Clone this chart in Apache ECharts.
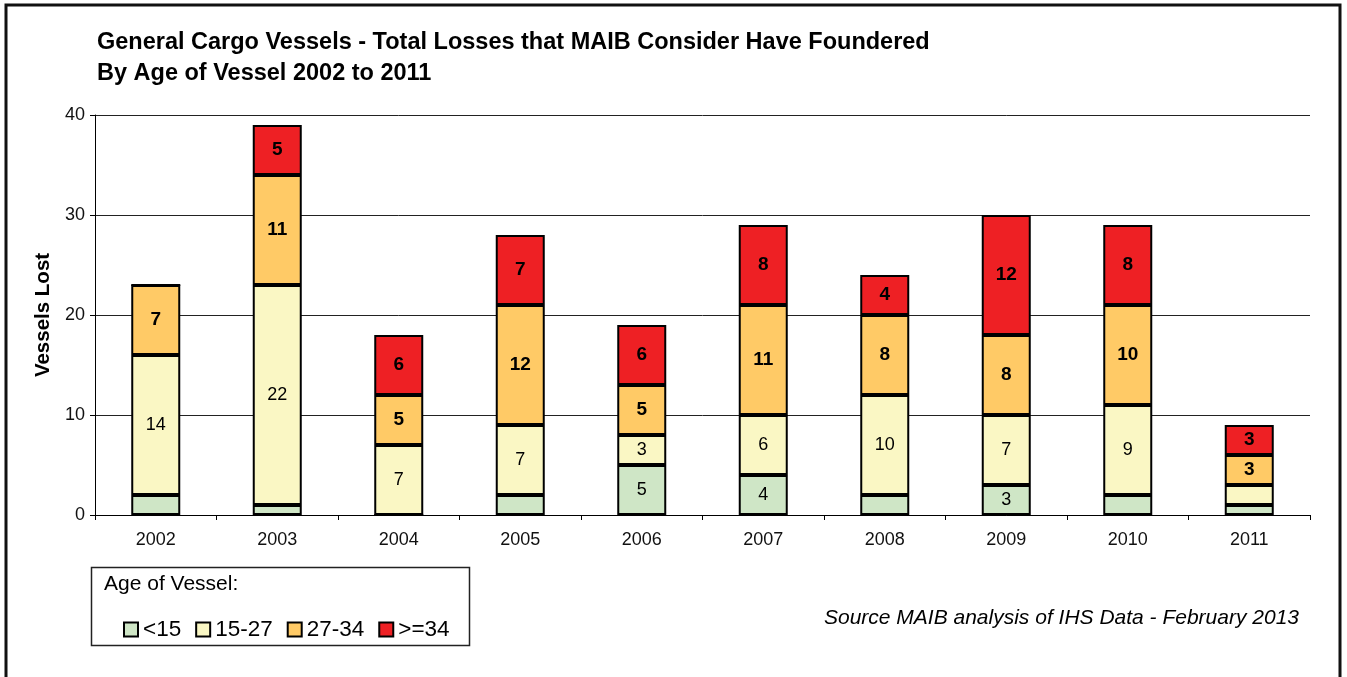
<!DOCTYPE html>
<html>
<head>
<meta charset="utf-8">
<title>General Cargo Vessels - Total Losses by Age</title>
<script src="https://cdn.jsdelivr.net/npm/echarts@6/dist/echarts.min.js"></script>
<style>
  html, body { margin: 0; padding: 0; background: #ffffff; }
  #chart { width: 1347px; height: 677px; }
</style>
</head>
<body>
<div id="chart"></div>
<script>
// Years on the category axis
const years = ['2002', '2003', '2004', '2005', '2006', '2007', '2008', '2009', '2010', '2011'];

// Vessels lost per age band (stacked bottom to top)
const under15   = [2, 1, 0, 2, 5, 4, 2, 3, 2, 1];
const age15to27 = [14, 22, 7, 7, 3, 6, 10, 7, 9, 2];
const age27to34 = [7, 11, 5, 12, 5, 11, 8, 8, 10, 3];
const age34plus = [0, 5, 6, 7, 6, 8, 4, 12, 8, 3];

const bandNames = ['<15', '15-27', '27-34', '>=34'];
const bandColors = ['#cfe6c6', '#faf7c4', '#ffca66', '#ee2024'];

// Y axis tick values
const yTicks = [0, 10, 20, 30, 40];

const FONT = '"Liberation Sans", Arial, sans-serif';

function makeSeries(name, values, color, bold) {
  return {
    name: name,
    type: 'bar',
    stack: 'total',
    barWidth: 49,
    data: values,
    itemStyle: { color: color, borderColor: '#000', borderWidth: 2 },
    label: {
      show: true,
      position: 'inside',
      fontFamily: FONT,
      fontSize: bold ? 19 : 18,
      fontWeight: bold ? 'bold' : 'normal',
      color: '#000',
      formatter: p => (p.value >= 3 ? String(p.value) : '')
    },
    emphasis: { disabled: true }
  };
}

const chart = echarts.init(document.getElementById('chart'), null, { renderer: 'canvas' });

chart.setOption({
  animation: false,
  backgroundColor: '#ffffff',
  textStyle: { fontFamily: FONT },
  title: {
    text: 'General Cargo Vessels - Total Losses that MAIB Consider Have Foundered\nBy Age of Vessel 2002 to 2011',
    left: 92,
    top: 22,
    textStyle: { fontFamily: FONT, fontSize: 23.5, fontWeight: 'bold', color: '#000', lineHeight: 31 }
  },
  grid: { left: 95, right: 37, top: 115, bottom: 162, containLabel: false },
  xAxis: {
    type: 'category',
    data: years,
    axisLine: { lineStyle: { color: '#000', width: 1 } },
    axisTick: { show: true, length: 5, lineStyle: { color: '#000' } },
    axisLabel: { fontFamily: FONT, fontSize: 18, color: '#111', margin: 16 }
  },
  yAxis: {
    type: 'value',
    min: yTicks[0],
    max: yTicks[yTicks.length - 1],
    interval: 10,
    name: 'Vessels Lost',
    nameLocation: 'middle',
    nameGap: 41,
    nameTextStyle: { fontFamily: FONT, fontSize: 20.5, fontWeight: 'bold', color: '#000' },
    axisLine: { show: true, lineStyle: { color: '#000', width: 1 } },
    axisTick: { show: true, length: 5, lineStyle: { color: '#000' } },
    axisLabel: { fontFamily: FONT, fontSize: 18, color: '#111', margin: 10 },
    splitLine: { show: true, lineStyle: { color: '#222', width: 1 } }
  },
  legend: {
    left: 118,
    top: 613,
    itemWidth: 14,
    itemHeight: 14,
    itemGap: 14,
    icon: 'rect',
    textStyle: { fontFamily: FONT, fontSize: 22.5, color: '#000' },
    data: bandNames
  },
  graphic: [
    {
      type: 'rect',
      shape: { x: 6, y: 5, width: 1334, height: 700 },
      style: { fill: 'none', stroke: '#111', lineWidth: 3 },
      silent: true
    },
    {
      type: 'rect',
      shape: { x: 91.5, y: 567.5, width: 378, height: 78 },
      style: { fill: 'none', stroke: '#222', lineWidth: 1.5 },
      silent: true
    },
    {
      type: 'text',
      left: 104,
      top: 574,
      style: { text: 'Age of Vessel:', font: '21px ' + FONT, fill: '#000' },
      silent: true
    },
    {
      type: 'text',
      right: 48,
      top: 608,
      style: { text: 'Source MAIB analysis of IHS Data - February 2013', font: 'italic 21px ' + FONT, fill: '#000' },
      silent: true
    }
  ],
  series: [
    makeSeries(bandNames[0], under15, bandColors[0], false),
    makeSeries(bandNames[1], age15to27, bandColors[1], false),
    makeSeries(bandNames[2], age27to34, bandColors[2], true),
    makeSeries(bandNames[3], age34plus, bandColors[3], true)
  ]
});
</script>
</body>
</html>
